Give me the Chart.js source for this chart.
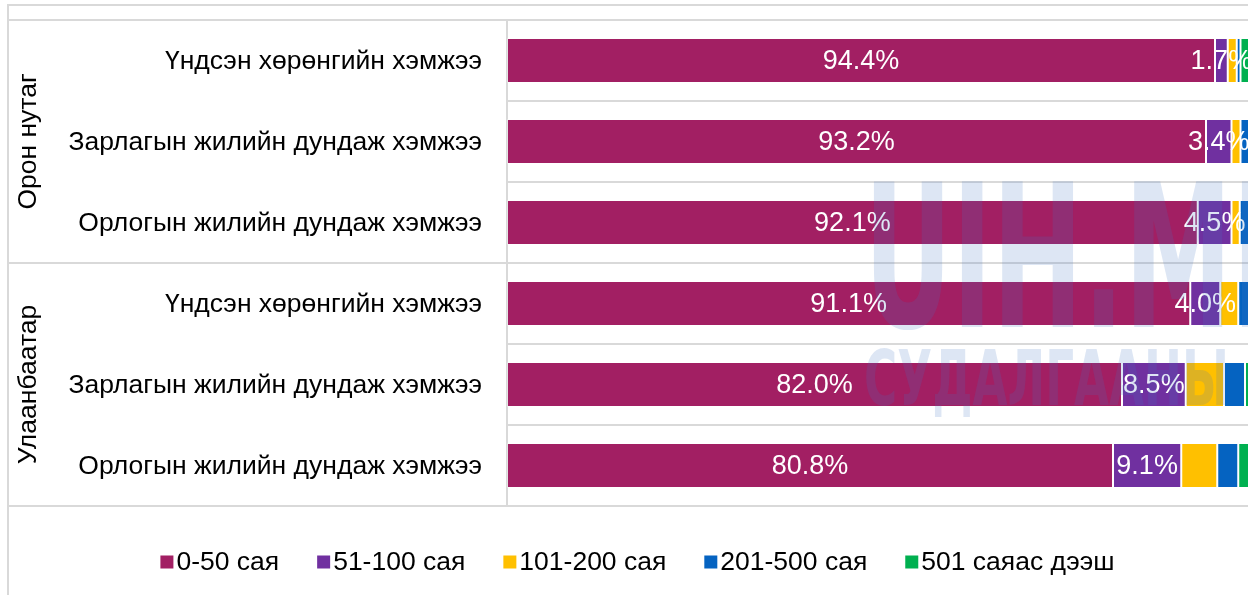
<!DOCTYPE html>
<html lang="mn">
<head>
    <meta charset="UTF-8">
    <title>Хэмжээний бүлэг</title>
    <style>
        body {
            margin: 0;
            background: #fff;
            overflow: hidden;
        }
        #wrap {
            width: 1275px;
            height: 595px;
            position: relative;
        }
    </style>
    <script src="https://cdn.jsdelivr.net/npm/chart.js"></script>
</head>
<body>
    <div id="wrap"><canvas id="chart"></canvas></div>

    <script>
        // Ангилал (дээрээс доош)
        const categories = [
            'Үндсэн хөрөнгийн хэмжээ',
            'Зарлагын жилийн дундаж хэмжээ',
            'Орлогын жилийн дундаж хэмжээ',
            'Үндсэн хөрөнгийн хэмжээ',
            'Зарлагын жилийн дундаж хэмжээ',
            'Орлогын жилийн дундаж хэмжээ'
        ];
        const groups = ['Орон нутаг', 'Улаанбаатар'];
        const groupSize = 3;

        const seriesNames = ['0-50 сая', '51-100 сая', '101-200 сая', '201-500 сая', '501 саяас дээш'];
        const seriesColors = ['#A21F63', '#7030A0', '#FFC000', '#0563C1', '#00B050'];

        // Хувь (%)
        const s0_50 = [94.4, 93.2, 92.1, 91.1, 82.0, 80.8];
        const s51_100 = [1.7, 3.4, 4.5, 4.0, 8.5, 9.1];
        const s101_200 = [1.2, 1.2, 1.1, 2.4, 5.1, 4.8];
        const s201_500 = [0.5, 1.4, 1.5, 1.5, 2.8, 2.8];
        const s501 = [2.2, 0.8, 0.8, 1.0, 1.6, 2.5];
        const seriesValues = [s0_50, s51_100, s101_200, s201_500, s501];

        // Зөвхөн эхний хоёр цувралд шошго
        const labelledSeries = [0, 1];

        const FONT = '"Liberation Sans", Arial, sans-serif';
        const GRID = '#D9D9D9';

        // Хүрээ, бүлгийн шугам, ангиллын болон бүлгийн нэр
        const framePlugin = {
            id: 'frame',
            beforeDraw(chart) {
                const ctx = chart.ctx;
                const area = chart.chartArea;
                const y = chart.scales.y;
                const W = chart.width, H = chart.height;
                ctx.save();
                ctx.strokeStyle = GRID;
                ctx.lineWidth = 2;
                const midY = (y.getPixelForValue(groupSize - 1) + y.getPixelForValue(groupSize)) / 2;
                const hLines = [5, area.top, midY, area.bottom];
                hLines.forEach(py => {
                    ctx.beginPath();
                    ctx.moveTo(8, py);
                    ctx.lineTo(W, py);
                    ctx.stroke();
                });
                ctx.beginPath();
                ctx.moveTo(8, 4);
                ctx.lineTo(8, H);
                ctx.stroke();

                ctx.fillStyle = '#000';
                ctx.font = '26.5px ' + FONT;

                // ангиллын нэр
                ctx.textAlign = 'right';
                ctx.textBaseline = 'middle';
                categories.forEach((c, i) => {
                    ctx.fillText(c, area.left - 25, y.getPixelForValue(i) + 1);
                });

                // бүлгийн нэр (босоо)
                ctx.textAlign = 'center';
                groups.forEach((g, i) => {
                    const top = i === 0 ? area.top : midY;
                    const bottom = i === 0 ? midY : area.bottom;
                    ctx.save();
                    ctx.translate(29, (top + bottom) / 2);
                    ctx.rotate(-Math.PI / 2);
                    ctx.fillText(g, 0, 0);
                    ctx.restore();
                });
                ctx.restore();
            }
        };

        // Утгын шошго
        const valueLabels = {
            id: 'valueLabels',
            afterDatasetsDraw(chart) {
                const ctx = chart.ctx;
                ctx.save();
                ctx.fillStyle = '#fff';
                ctx.font = '27px ' + FONT;
                ctx.textAlign = 'center';
                ctx.textBaseline = 'middle';
                labelledSeries.forEach(di => {
                    const meta = chart.getDatasetMeta(di);
                    meta.data.forEach((bar, i) => {
                        const v = chart.data.datasets[di].data[i];
                        const cx = (bar.x + bar.base) / 2;
                        ctx.fillText(v.toFixed(1) + '%', cx, bar.y + 1);
                    });
                });
                ctx.restore();
            }
        };

        // Усан тэмдэг ба тайлбар
        const overlayPlugin = {
            id: 'overlay',
            afterDraw(chart) {
                const ctx = chart.ctx;
                ctx.save();
                ctx.fillStyle = 'rgba(68, 114, 196, 0.18)';
                ctx.textBaseline = 'alphabetic';
                ctx.textAlign = 'left';

                ctx.font = 'bold 200px "Liberation Sans Narrow", "DejaVu Sans Condensed", ' + FONT;
                let sx = 368 / ctx.measureText('UIH.M').width;
                ctx.save();
                ctx.translate(864, 327);
                ctx.scale(sx, 1);
                ctx.fillText('UIH.MN', 0, 0);
                ctx.restore();

                ctx.font = 'bold 76px "Liberation Sans Narrow", "DejaVu Sans Condensed", ' + FONT;
                sx = 318 / ctx.measureText('СУДАЛГААН').width;
                ctx.save();
                ctx.translate(864, 405);
                ctx.scale(sx, 1);
                ctx.fillText('СУДАЛГААНЫ САН', 0, 0);
                ctx.restore();
                ctx.restore();

                // тайлбар
                ctx.save();
                ctx.font = '26.5px ' + FONT;
                ctx.textBaseline = 'middle';
                ctx.textAlign = 'left';
                const box = 13, gap = 3, itemGap = 38, ly = 562;
                const widths = seriesNames.map(n => box + gap + ctx.measureText(n).width);
                const total = widths.reduce((a, b) => a + b, 0) + itemGap * (widths.length - 1);
                let x = (chart.width - total) / 2;
                seriesNames.forEach((n, i) => {
                    ctx.fillStyle = seriesColors[i];
                    ctx.fillRect(x, ly - box / 2, box, box);
                    ctx.fillStyle = '#000';
                    ctx.fillText(n, x + box + gap, ly + 1);
                    x += widths[i] + itemGap;
                });
                ctx.restore();
            }
        };

        const ctx = document.getElementById('chart').getContext('2d');
        const chart = new Chart(ctx, {
            type: 'bar',
            data: {
                labels: categories,
                datasets: seriesNames.map((name, i) => ({
                    label: name,
                    data: seriesValues[i],
                    backgroundColor: seriesColors[i],
                    borderColor: 'rgba(255,255,255,0.3)',
                    borderWidth: 1,
                    borderSkipped: false,
                    barPercentage: 0.556,
                    categoryPercentage: 1
                }))
            },
            options: {
                indexAxis: 'y',
                responsive: true,
                maintainAspectRatio: false,
                animation: false,
                devicePixelRatio: 1,
                layout: { padding: { top: 20, bottom: 89, left: 0, right: 18 } },
                plugins: {
                    legend: { display: false },
                    tooltip: { enabled: false }
                },
                scales: {
                    x: {
                        stacked: true,
                        min: 0,
                        max: 100,
                        display: false
                    },
                    y: {
                        stacked: true,
                        grid: { offset: true, color: GRID, lineWidth: 2, drawTicks: false },
                        border: { display: true, color: GRID, width: 2 },
                        ticks: { display: false },
                        afterFit(scale) { scale.width = 507; }
                    }
                }
            },
            plugins: [framePlugin, valueLabels, overlayPlugin]
        });
    </script>
</body>
</html>
